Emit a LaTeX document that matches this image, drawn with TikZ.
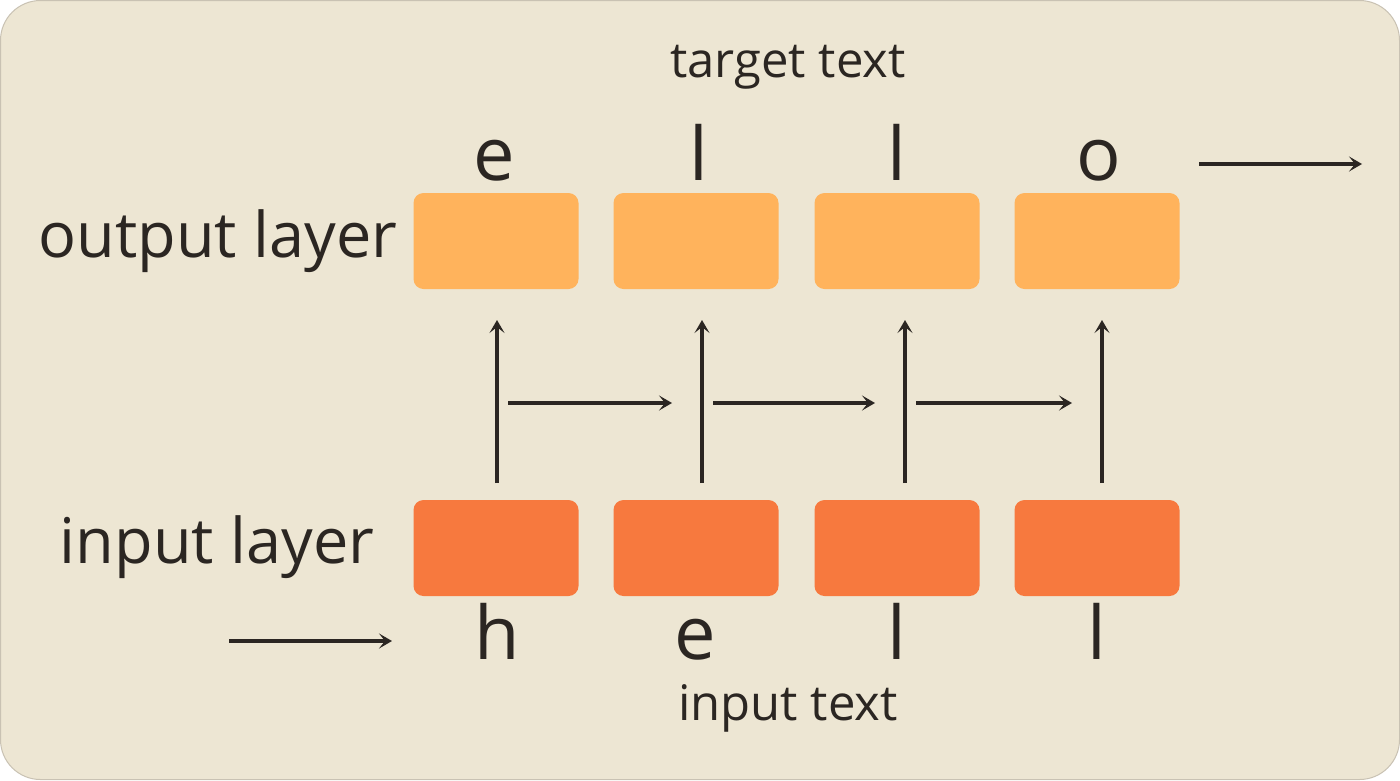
\documentclass[tikz,border=0pt]{standalone}
\usepackage{fontspec}
\setmainfont{Open Sans}
\usetikzlibrary{arrows.meta, positioning}
\definecolor{paper}{HTML}{EDE6D3}
\definecolor{rim}{HTML}{C9C2B3}
\definecolor{outcell}{HTML}{FFB35C}
\definecolor{incell}{HTML}{F7793E}
\definecolor{ink}{HTML}{2B2622}

\begin{document}
\begin{tikzpicture}[x=1pt, y=-1pt,
  cell/.style={rectangle, rounded corners=10pt, minimum width=165pt,
               minimum height=96pt, inner sep=0pt},
  flow/.style={-{Stealth[length=13pt, width=15pt, inset=6pt]},
               line width=3.5pt, ink},
  glyph/.style={font=\fontsize{74}{80}\selectfont, text=ink, anchor=base},
  caption/.style={font=\fontsize{49}{54}\selectfont, text=ink, anchor=base},
  layername/.style={font=\fontsize{63}{68}\selectfont, text=ink, anchor=base}]
  % Background card
  \useasboundingbox (0,0) rectangle (1400,780);
  \fill[white] (0,0) rectangle (1400,780);
  \draw[rim, fill=paper, rounded corners=40pt, line width=1pt] (0.5,0.5) rectangle (1399.5,779.5);
  % Layer cells
  \foreach \i/\x in {1/496, 2/696, 3/897, 4/1097} {
    \node[cell, fill=outcell] (out\i) at (\x,241) {};
    \node[cell, fill=incell] (in\i) at (\x,548) {};
  }
  % Characters
  \foreach \i/\x/\c in {1/494/e, 2/699/l, 3/897/l, 4/1099/o}
    \node[glyph] (tgt\i) at (\x,180) {\c};
  \foreach \i/\x/\c in {1/497/h, 2/695/e, 3/897/l, 4/1097/l}
    \node[glyph] (src\i) at (\x,659) {\c};
  % Captions
  \node[caption] (target) at (788,77) {target text};
  \node[caption] (source) at (788,720) {input text};
  \node[layername] (outname) at (218,257) {output layer};
  \node[layername] (inname) at (217,563) {input layer};
  % Columns between the layers
  \foreach \i/\x in {1/497, 2/702, 3/905, 4/1102} {
    \coordinate (lo\i) at (\x,483);
    \coordinate (hi\i) at (\x,320);
    \coordinate (mid\i) at (\x,403);
    \draw[flow] (lo\i) -- (hi\i);
  }
  \foreach \i/\j in {1/2, 2/3, 3/4}
    \draw[flow, shorten <=11pt, shorten >=30pt] (mid\i) -- (mid\j);
  % Sequence arrows
  \coordinate (feed) at (229,641);
  \coordinate (feedend) at (392,641);
  \draw[flow] (feed) -- (feedend);
  \coordinate (emit) at (1199,164);
  \coordinate (emitend) at (1362,164);
  \draw[flow] (emit) -- (emitend);
\end{tikzpicture}
\end{document}
